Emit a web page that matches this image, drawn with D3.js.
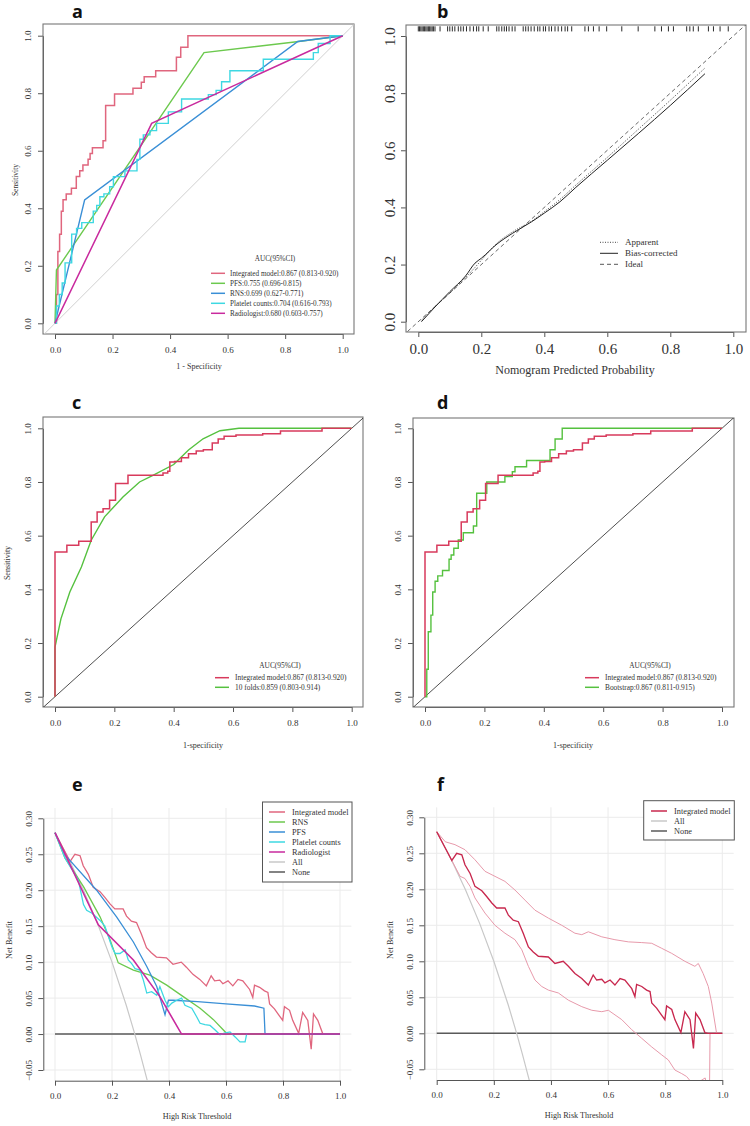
<!DOCTYPE html>
<html>
<head>
<meta charset="utf-8">
<script src="https://cdn.jsdelivr.net/npm/d3@7"></script>
<style>
body { margin: 0; background: #fff; }
svg text { font-family: "Liberation Serif", "Times New Roman", serif; fill: #333; }
svg text.tag { font-family: "Open Sans", "Noto Sans", sans-serif; font-weight: 700; fill: #111; }
</style>
</head>
<body>
<svg id="fig" width="750" height="1126"></svg>
<script>
// ---- data ----
var unitTicks = [0, 0.2, 0.4, 0.6, 0.8, 1.0];
var nbTicks = [-0.05, 0, 0.05, 0.10, 0.15, 0.20, 0.25, 0.30];

// a: ROC curves, [1 - specificity, sensitivity]
var rocA_integrated = [[0,0],[0.005,0.10],[0.01,0.25],[0.016,0.31],[0.022,0.39],[0.028,0.43],[0.039,0.45],[0.057,0.47],[0.074,0.51],[0.086,0.53],[0.097,0.55],[0.115,0.57],[0.122,0.59],[0.13,0.61],[0.167,0.635],[0.176,0.757],[0.207,0.797],[0.271,0.817],[0.3,0.838],[0.31,0.857],[0.35,0.878],[0.422,0.925],[0.437,0.96],[0.462,1.0],[1,1]];
var rocA_pfs = [[0,0],[0.005,0.185],[0.518,0.941],[0.84,0.979],[1,1]];
var rocA_rns = [[0,0],[0.103,0.429],[0.844,0.98],[1,1]];
var rocA_platelet = [[0,0],[0.005,0.06],[0.015,0.1],[0.025,0.14],[0.035,0.21],[0.058,0.31],[0.075,0.33],[0.093,0.35],[0.133,0.39],[0.145,0.41],[0.156,0.44],[0.17,0.45],[0.19,0.475],[0.203,0.51],[0.243,0.53],[0.285,0.57],[0.295,0.64],[0.307,0.655],[0.33,0.67],[0.353,0.695],[0.394,0.735],[0.44,0.78],[0.533,0.795],[0.56,0.81],[0.579,0.84],[0.608,0.878],[0.724,0.918],[0.898,0.941],[0.915,0.973],[0.956,1.0],[1,1]];
var rocA_radiologist = [[0,0],[0.336,0.695],[1,1]];
var legendA = ["Integrated model:0.867 (0.813-0.920)", "PFS:0.755 (0.696-0.815)", "RNS:0.699 (0.627-0.771)", "Platelet counts:0.704 (0.616-0.793)", "Radiologist:0.680 (0.603-0.757)"];

// b: calibration
var calPredicted = [0.01,0.05,0.1,0.15,0.18,0.2,0.25,0.3,0.36,0.4,0.45,0.5,0.6,0.7,0.8,0.91];
var calApparent = [0.005,0.05,0.1,0.155,0.19,0.215,0.275,0.315,0.352,0.385,0.428,0.478,0.575,0.675,0.775,0.888];
var calBiasCorrected = [0.0,0.048,0.105,0.16,0.205,0.222,0.272,0.31,0.35,0.38,0.42,0.47,0.565,0.66,0.757,0.868];
var rugValues = [0.0,0.004,0.008,0.012,0.016,0.02,0.024,0.028,0.032,0.036,0.04,0.044,0.048,0.053,0.069,0.093,0.1,0.108,0.116,0.127,0.135,0.143,0.153,0.164,0.175,0.185,0.192,0.206,0.222,0.249,0.256,0.265,0.273,0.28,0.288,0.298,0.307,0.333,0.341,0.349,0.358,0.368,0.379,0.386,0.397,0.404,0.415,0.423,0.434,0.444,0.455,0.466,0.474,0.487,0.529,0.54,0.556,0.574,0.598,0.646,0.698,0.751,0.772,0.794,0.81,0.852,0.862,0.873,0.889,0.921,0.937,0.958,0.984];
var legendB = ["Apparent", "Bias-corrected", "Ideal"];

// c, d: ROC curves
var rocCD_integrated = [[0,0],[0,0.539],[0.04,0.564],[0.08,0.579],[0.122,0.651],[0.142,0.688],[0.162,0.70],[0.184,0.732],[0.204,0.794],[0.246,0.825],[0.364,0.833],[0.38,0.84],[0.387,0.874],[0.403,0.876],[0.426,0.89],[0.45,0.905],[0.476,0.915],[0.5,0.92],[0.53,0.945],[0.55,0.96],[0.57,0.97],[0.61,0.975],[0.7,0.98],[0.76,0.99],[0.9,1.0],[1,1]];
var rocC_tenFolds = [[0,0],[0,0.185],[0.02,0.29],[0.05,0.39],[0.089,0.483],[0.122,0.583],[0.167,0.67],[0.229,0.744],[0.285,0.80],[0.33,0.825],[0.4,0.865],[0.45,0.919],[0.499,0.961],[0.556,0.991],[0.62,1.0],[1,1]];
var rocD_bootstrap = [[0,0],[0.006,0.102],[0.011,0.242],[0.02,0.304],[0.026,0.39],[0.034,0.43],[0.043,0.45],[0.059,0.47],[0.081,0.512],[0.088,0.528],[0.097,0.553],[0.112,0.584],[0.129,0.611],[0.163,0.636],[0.174,0.758],[0.208,0.8],[0.269,0.82],[0.294,0.838],[0.303,0.857],[0.342,0.88],[0.421,0.92],[0.438,0.96],[0.462,1.0],[1,1]];
var legendC = ["Integrated model:0.867 (0.813-0.920)", "10 folds:0.859 (0.803-0.914)"];
var legendD = ["Integrated model:0.867 (0.813-0.920)", "Bootstrap:0.867 (0.811-0.915)"];

// e, f: decision curves, [threshold, net benefit]
var nbIntegrated = [[0,0.28],[0.053,0.24],[0.07,0.25],[0.088,0.248],[0.099,0.234],[0.117,0.222],[0.134,0.204],[0.158,0.198],[0.175,0.19],[0.193,0.181],[0.21,0.174],[0.239,0.174],[0.251,0.164],[0.268,0.157],[0.286,0.155],[0.303,0.139],[0.321,0.12],[0.338,0.113],[0.356,0.107],[0.391,0.106],[0.414,0.097],[0.443,0.1],[0.461,0.093],[0.484,0.083],[0.508,0.076],[0.531,0.067],[0.548,0.081],[0.56,0.074],[0.578,0.075],[0.589,0.07],[0.607,0.074],[0.624,0.067],[0.642,0.076],[0.659,0.074],[0.683,0.062],[0.694,0.051],[0.7,0.068],[0.718,0.065],[0.735,0.06],[0.747,0.058],[0.753,0.042],[0.77,0.035],[0.788,0.025],[0.799,0.019],[0.805,0.038],[0.823,0.033],[0.834,0.019],[0.855,0.001],[0.869,0.03],[0.887,0.019],[0.899,-0.021],[0.907,0.028],[0.922,0.019],[0.939,0.001],[0.95,0],[1,0]];
var nbRns = [[0,0.28],[0.035,0.245],[0.1,0.205],[0.158,0.163],[0.193,0.131],[0.222,0.099],[0.275,0.089],[0.333,0.082],[0.392,0.068],[0.45,0.052],[0.509,0.036],[0.556,0.02],[0.602,0.001],[0.61,0],[1,0]];
var nbPfs = [[0,0.28],[0.035,0.249],[0.146,0.2],[0.216,0.163],[0.275,0.128],[0.322,0.094],[0.357,0.066],[0.386,0.027],[0.398,0.047],[0.415,0.047],[0.5,0.045],[0.6,0.042],[0.7,0.039],[0.733,0.036],[0.737,0],[1,0]];
var nbPlatelet = [[0,0.28],[0.035,0.245],[0.082,0.214],[0.1,0.18],[0.111,0.172],[0.13,0.168],[0.158,0.158],[0.175,0.15],[0.199,0.122],[0.211,0.112],[0.228,0.112],[0.246,0.117],[0.257,0.103],[0.269,0.098],[0.281,0.091],[0.298,0.089],[0.31,0.075],[0.322,0.057],[0.339,0.059],[0.357,0.054],[0.368,0.066],[0.386,0.047],[0.398,0.038],[0.41,0.043],[0.427,0.047],[0.444,0.05],[0.456,0.04],[0.48,0.036],[0.497,0.024],[0.509,0.015],[0.526,0.013],[0.544,0.012],[0.561,0.006],[0.579,-0.001],[0.591,0.001],[0.614,0.003],[0.632,-0.004],[0.649,-0.011],[0.667,-0.011],[0.673,0.001]];
var nbRadiologist = [[0,0.28],[0.152,0.152],[0.275,0.103],[0.368,0.052],[0.444,0],[1,0]];
var nbAll = [[0,0.28],[0.05,0.242],[0.1,0.2],[0.15,0.153],[0.2,0.1],[0.25,0.04],[0.28,0],[0.3,-0.029],[0.33,-0.074]];
var nbNone = [[0,0],[1,0]];
var nbUpper = [[0,0.28],[0.03,0.266],[0.064,0.262],[0.099,0.255],[0.134,0.241],[0.169,0.225],[0.204,0.218],[0.239,0.211],[0.274,0.199],[0.309,0.185],[0.344,0.171],[0.391,0.16],[0.438,0.15],[0.484,0.139],[0.508,0.137],[0.531,0.141],[0.578,0.134],[0.624,0.13],[0.671,0.127],[0.718,0.126],[0.753,0.125],[0.788,0.118],[0.823,0.111],[0.869,0.1],[0.904,0.093],[0.916,0.097],[0.933,0.083],[0.951,0.065],[0.963,0.042],[0.98,0],[1,0]];
var nbLower = [[0,0.28],[0.082,0.218],[0.099,0.215],[0.117,0.204],[0.134,0.188],[0.169,0.167],[0.204,0.15],[0.239,0.139],[0.274,0.13],[0.298,0.116],[0.321,0.093],[0.344,0.074],[0.368,0.065],[0.391,0.06],[0.426,0.056],[0.461,0.046],[0.508,0.037],[0.543,0.032],[0.578,0.03],[0.601,0.032],[0.648,0.019],[0.683,0.005],[0.718,-0.007],[0.753,-0.019],[0.788,-0.03],[0.811,-0.037],[0.834,-0.051],[0.858,-0.056],[0.875,-0.06],[0.9,-0.072],[0.94,-0.062],[0.955,-0.09],[0.957,0],[1,0]];
var legendE = ["Integrated model", "RNS", "PFS", "Platelet counts", "Radiologist", "All", "None"];
var legendF = ["Integrated model", "All", "None"];

// colours
var cRed = "#e0667e", cGreen = "#6cc94e", cBlue = "#3a8fd6", cCyan = "#3ed8e2", cMag = "#c92a9e";
var cCrimson = "#d83a5c", cGreenCD = "#55c13f";
var cAll = "#c8c8c8", cNone = "#5a5a5a", cCI = "#e79aab", cMain = "#c8284e";

var svg = d3.select("#fig");
var f1 = d3.format(".1f"), f2 = d3.format(".2f");

function panel(o) {
  var x = d3.scaleLinear().domain(o.xd).range(o.xr);
  var y = d3.scaleLinear().domain(o.yd).range(o.yr);
  var b = o.box;
  var g = svg.append("g");
  g.append("clipPath").attr("id", "clip-" + o.id)
    .append("rect").attr("x", b[0]).attr("y", b[1]).attr("width", b[2] - b[0]).attr("height", b[3] - b[1]);

  if (o.grid) {
    g.append("g").selectAll("line").data(o.xt).enter().append("line")
      .attr("x1", x).attr("x2", x).attr("y1", b[1]).attr("y2", b[3])
      .attr("stroke", "#ebebeb");
    g.append("g").selectAll("line").data(o.yt).enter().append("line")
      .attr("x1", b[0]).attr("x2", b[2]).attr("y1", y).attr("y2", y)
      .attr("stroke", "#ebebeb");
  }

  var ax = g.append("g").attr("transform", "translate(0," + b[3] + ")")
    .call(d3.axisBottom(x).tickValues(o.xt).tickFormat(o.xf).tickSize(5).tickSizeOuter(0).tickPadding(o.xpad));
  var ay = g.append("g").attr("transform", "translate(" + b[0] + ",0)")
    .call(d3.axisLeft(y).tickValues(o.yt).tickFormat(o.yf).tickSize(5).tickSizeOuter(0));
  ay.selectAll(".tick text")
    .attr("transform", "rotate(-90)").attr("x", 0).attr("y", -o.ypad)
    .attr("dy", null).attr("text-anchor", "middle");
  ax.attr("font-size", o.fs).attr("color", "#555");
  ay.attr("font-size", o.fs).attr("color", "#555");

  if (o.frame) {
    g.append("rect").attr("x", b[0]).attr("y", b[1])
      .attr("width", b[2] - b[0]).attr("height", b[3] - b[1])
      .attr("fill", "none").attr("stroke", "#777").attr("stroke-width", 1.1);
  }
  var plot = g.append("g").attr("clip-path", "url(#clip-" + o.id + ")");
  return {g: g, plot: plot, x: x, y: y};
}

function curve(p, data, color, w, type, dash) {
  p.plot.append("path").datum(data)
    .attr("fill", "none").attr("stroke", color).attr("stroke-width", w)
    .attr("stroke-dasharray", dash || null)
    .attr("d", d3.line()
      .x(function(d) { return p.x(d[0]); })
      .y(function(d) { return p.y(d[1]); })
      .curve(type || d3.curveLinear));
}

function label(txt, x, y, size, rotate, cls) {
  svg.append("text").attr("class", cls || null)
    .attr("transform", "translate(" + x + "," + y + ")" + (rotate ? " rotate(-90)" : ""))
    .attr("text-anchor", cls ? "start" : "middle")
    .attr("font-size", size).text(txt);
}

function legend(items, colors, x0, y0, step, lineW, gap, fs, widths, dashes) {
  var lg = svg.append("g");
  items.forEach(function(t, i) {
    var yy = y0 + i * step;
    lg.append("line").attr("x1", x0).attr("x2", x0 + lineW).attr("y1", yy).attr("y2", yy)
      .attr("stroke", colors[i]).attr("stroke-width", widths ? widths[i] : 1.5)
      .attr("stroke-dasharray", dashes ? dashes[i] : null);
    lg.append("text").attr("x", x0 + lineW + gap).attr("y", yy).attr("dy", "0.33em")
      .attr("font-size", fs).text(t);
  });
  return lg;
}

var diag = [[-0.1, -0.1], [1.1, 1.1]];

// ---------- a ----------
var pa = panel({id: "a", xd: [0, 1], xr: [55, 342.7], yd: [0, 1], yr: [323.3, 35.7],
  box: [43, 24, 354, 334], xt: unitTicks, yt: unitTicks, xf: f1, yf: f1, fs: 9, xpad: 8, ypad: 12, frame: true});
curve(pa, diag, "#d0d0d0", 1);
curve(pa, rocA_integrated, cRed, 1.5, d3.curveStepAfter);
curve(pa, rocA_pfs, cGreen, 1.4);
curve(pa, rocA_rns, cBlue, 1.4);
curve(pa, rocA_platelet, cCyan, 1.4, d3.curveStepAfter);
curve(pa, rocA_radiologist, cMag, 1.5);
label("AUC(95%CI)", 275, 260.5, 7.2);
legend(legendA, [cRed, cGreen, cBlue, cCyan, cMag], 211, 273.3, 10, 14, 5, 7.2);
label("1 - Specificity", 199, 368.5, 8);
label("Sensitivity", 18, 180, 7.5, true);
label("a", 72, 18, 18, false, "tag");

// ---------- b ----------
var pb = panel({id: "b", xd: [0, 1], xr: [418.3, 733.3], yd: [0, 1], yr: [321.7, 36],
  box: [406, 25, 746, 332], xt: unitTicks, yt: unitTicks, xf: f1, yf: f1, fs: 15, xpad: 6, ypad: 11, frame: true});
curve(pb, diag, "#444", 0.8, null, "4,3");
var calA = calPredicted.map(function(v, i) { return [v, calApparent[i]]; });
var calB = calPredicted.map(function(v, i) { return [v, calBiasCorrected[i]]; });
curve(pb, calA, "#333", 0.9, d3.curveMonotoneX, "1,1.5");
curve(pb, calB, "#222", 1, d3.curveMonotoneX);
pb.plot.append("g").selectAll("line").data(rugValues).enter().append("line")
  .attr("x1", function(d) { return pb.x(d); }).attr("x2", function(d) { return pb.x(d); })
  .attr("y1", pb.y(1.034)).attr("y2", pb.y(1.016))
  .attr("stroke", "#111").attr("stroke-width", 0.9);
legend(legendB, ["#333", "#222", "#444"], 600, 242.3, 11, 18, 7, 9, [0.9, 1, 0.9], ["1,1.5", null, "4,3"]);
label("Nomogram Predicted Probability", 575, 373.5, 12);
label("b", 437, 18, 18, false, "tag");

// ---------- c ----------
var pc = panel({id: "c", xd: [0, 1], xr: [55, 351.7], yd: [0, 1], yr: [696.7, 428.3],
  box: [43, 417, 363, 707], xt: unitTicks, yt: unitTicks, xf: f1, yf: f1, fs: 9, xpad: 8, ypad: 12, frame: true});
curve(pc, diag, "#222", 0.8);
curve(pc, rocC_tenFolds, cGreenCD, 1.4);
curve(pc, rocCD_integrated, cCrimson, 1.5, d3.curveStepAfter);
label("AUC(95%CI)", 280, 667.5, 7.4);
legend(legendC, [cCrimson, cGreenCD], 215, 677.7, 9.6, 14, 6, 7.4);
label("1-specificity", 203, 747.5, 8);
label("Sensitivity", 10, 563, 8, true);
label("c", 72, 409, 18, false, "tag");

// ---------- d ----------
var pd = panel({id: "d", xd: [0, 1], xr: [425, 722], yd: [0, 1], yr: [696.7, 428.3],
  box: [413, 418, 734, 707], xt: unitTicks, yt: unitTicks, xf: f1, yf: f1, fs: 9, xpad: 8, ypad: 12, frame: true});
curve(pd, diag, "#222", 0.8);
curve(pd, rocD_bootstrap, cGreenCD, 1.4, d3.curveStepAfter);
curve(pd, rocCD_integrated, cCrimson, 1.5, d3.curveStepAfter);
label("AUC(95%CI)", 650, 667.5, 7.4);
legend(legendD, [cCrimson, cGreenCD], 585, 677.7, 9.6, 14, 6, 7.4);
label("1-specificity", 573, 747.5, 8);
label("d", 437, 409, 18, false, "tag");

// ---------- e ----------
var pe = panel({id: "e", xd: [0, 1], xr: [55, 340], yd: [-0.05, 0.30], yr: [1070, 818.3],
  box: [43.3, 808, 351.4, 1080.7], xt: unitTicks, yt: nbTicks, xf: f1, yf: f2, fs: 9, xpad: 7, ypad: 11, grid: true});
curve(pe, nbNone, cNone, 1.5);
curve(pe, nbAll, cAll, 1.2);
curve(pe, nbIntegrated, cRed, 1.3);
curve(pe, nbRns, cGreen, 1.3);
curve(pe, nbPfs, cBlue, 1.3);
curve(pe, nbPlatelet, cCyan, 1.3);
curve(pe, nbRadiologist, cMag, 1.6);
svg.append("rect").attr("x", 262.5).attr("y", 802).attr("width", 89.5).attr("height", 80)
  .attr("fill", "#fff").attr("stroke", "#555").attr("stroke-width", 1);
legend(legendE, [cRed, cGreen, cBlue, cCyan, cMag, cAll, cNone], 269, 812, 10, 16, 7, 8.3);
label("High Risk Threshold", 197, 1118.5, 8.2);
label("Net Benefit", 12, 940, 8.2, true);
label("e", 72, 790.5, 18, false, "tag");

// ---------- f ----------
var pf = panel({id: "f", xd: [0, 1], xr: [436.7, 722.3], yd: [-0.05, 0.30], yr: [1069.3, 817.3],
  box: [424.3, 807.3, 733.7, 1080], xt: unitTicks, yt: nbTicks, xf: f1, yf: f2, fs: 9, xpad: 7, ypad: 11.5, grid: true});
curve(pf, nbNone, cNone, 1.5);
curve(pf, nbAll, cAll, 1.2);
curve(pf, nbUpper, cCI, 1);
curve(pf, nbLower, cCI, 1);
curve(pf, nbIntegrated, cMain, 1.35);
svg.append("rect").attr("x", 643.7).attr("y", 800.7).attr("width", 90.6).attr("height", 39.3)
  .attr("fill", "#fff").attr("stroke", "#555").attr("stroke-width", 1);
legend(legendF, [cMain, cAll, cNone], 651, 811, 10, 16, 7, 8.3);
label("High Risk Threshold", 579, 1117.5, 8.2);
label("Net Benefit", 393, 940, 8.2, true);
label("f", 437, 790.5, 18, false, "tag");
</script>
</body>
</html>
